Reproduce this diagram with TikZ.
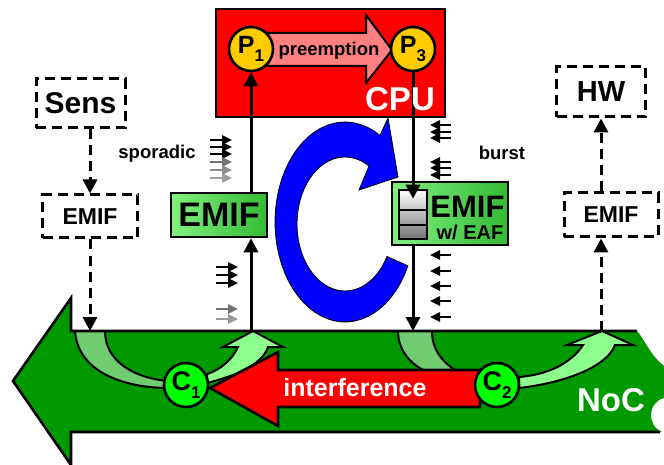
\documentclass[tikz,border=0pt]{standalone}
\usepackage{fontspec}
\setmainfont{Liberation Sans}
\usetikzlibrary{arrows.meta}
\definecolor{cpured}{HTML}{FF0000}
\definecolor{pyellow}{HTML}{FFCC00}
\definecolor{preempt}{HTML}{FF8080}
\definecolor{nocgreen}{HTML}{009900}
\definecolor{cgreen}{HTML}{00FF00}
\definecolor{flowdark}{HTML}{70CC70}
\definecolor{flowlight}{HTML}{8CFF8C}
\definecolor{emiflight}{HTML}{80F080}
\definecolor{emifdark}{HTML}{33BB33}
\definecolor{spinblue}{HTML}{0000FF}
\newcommand{\fsz}[1]{\fontsize{#1}{#1}\selectfont\bfseries}
\newcommand{\idx}[1]{\raisebox{-0.3em}{\fontsize{17}{17}\selectfont #1}}

\begin{document}
\begin{tikzpicture}[
  x=1pt, y=-1pt,
  >={Triangle[length=14pt, width=14pt]},
  link/.style={->, line width=3pt},
  dlink/.style={->, line width=3pt, dash pattern=on 10pt off 6pt},
  dbox/.style={
    draw, line width=3pt, dash pattern=on 10pt off 6pt,
    inner sep=0pt, font=\fsz{23}
  },
  gbox/.style={
    draw, line width=2.6pt, inner sep=0pt,
    left color=emiflight, right color=emifdark
  },
  proc/.style={
    circle, draw, line width=2.6pt, fill=pyellow,
    minimum size=44pt, inner sep=0pt, font=\fsz{25}
  },
  chan/.style={
    circle, draw, line width=2.6pt, fill=cgreen,
    minimum size=44pt, inner sep=0pt, font=\fsz{27}
  },
  flowtick/.style={-{Triangle[length=10pt, width=9pt]}, line width=2.4pt},
  band/.style={line width=2pt},
  lbl/.style={font=\fsz{18.5}},
]
  \useasboundingbox (0,0) rectangle (664,465);

  \node[draw, line width=2.6pt, fill=cpured,
    minimum width=229pt, minimum height=108pt] (cpu) at (330.5,63) {};
  \draw[fill=preempt, line width=2pt] (262,33) -- (366,33) -- (366,15)
    -- (392,50) -- (366,83) -- (366,66) -- (262,66) -- cycle;

  \draw[fill=spinblue, line width=0.8pt]
    plot[domain=26:300, samples=50] ({345+70*cos(\x)}, {222+100*sin(\x)})
    -- (388,118) -- (398,177) -- (359,190)
    -- plot[domain=300:29, samples=50] ({345+48*cos(\x)}, {224+67*sin(\x)})
    -- cycle;

  \fill[nocgreen] (13,381) -- (71,298) -- (71,331) -- (637,331)
    .. controls (645,340) and (650,355) .. (664,366) -- (664,398)
    .. controls (648,402) and (646,425) .. (662,432)
    -- (71,432) -- (71,465) -- cycle;
  \draw[band, fill=flowdark] (75,331) .. controls (78,375) and (130,388) .. (168,388)
    -- (168,381) .. controls (135,378) and (105,362) .. (105,331);
  \draw[band, fill=flowdark] (398,331) .. controls (398,350) and (410,363) .. (423,370)
    -- (455,370) .. controls (440,360) and (432,348) .. (432,331);
  \draw[line width=2.6pt] (637,331) -- (71,331) -- (71,298) -- (13,381)
    -- (71,465) -- (71,432) -- (660,432);
  \draw[band, fill=flowlight] (207,383) .. controls (235,376) and (262,365) .. (268,347)
    -- (283,347) -- (253,331) -- (223,347) -- (238,347)
    .. controls (232,360) and (220,370) .. (207,374) -- cycle;
  \draw[band, fill=flowlight] (519,388) .. controls (570,382) and (608,365) .. (615,345)
    -- (633,345) -- (602,331) -- (567,345) -- (583,345)
    .. controls (570,365) and (545,375) .. (519,377) -- cycle;
  \draw[fill=cpured, line width=2.6pt] (210,388) -- (278,352) -- (278,370)
    -- (480,370) -- (480,407) -- (278,407) -- (278,426) -- cycle;

  \coordinate (nocA) at (90,331);
  \coordinate (nocB) at (251,331);
  \coordinate (nocC) at (413,331);
  \coordinate (nocD) at (601,331);

  \node[dbox, minimum width=89pt, minimum height=49pt, font=\fsz{30}] (sens) at (80.5,103.5) {Sens};
  \node[dbox, minimum width=95pt, minimum height=43pt] (emifa) at (90,216.5) {EMIF};
  \node[dbox, minimum width=89pt, minimum height=50pt, font=\fsz{29}] (hw) at (601,92) {HW};
  \node[dbox, minimum width=94pt, minimum height=44pt] (emifd) at (611,215) {EMIF};

  \node[gbox, minimum width=96pt, minimum height=44pt, font=\fsz{34}] (emifb) at (219,215) {EMIF};
  \node[gbox, minimum width=116pt, minimum height=63pt] (emifc) at (450,213.5) {};
  \node[font=\fsz{31}] (eafname) at (467.5,207) {EMIF};
  \node[font=\fsz{20}] (eafsub) at (470,232) {w/ EAF};
  \node[draw, line width=2.6pt, top color=white, bottom color=gray!90!black,
    minimum width=28pt, minimum height=49pt] (fifo) at (413,214.5) {};
  \draw[line width=2pt] (399,210) -- (427,210);
  \draw[line width=2pt] (399,225) -- (427,225);

  \draw[dlink] (sens.south -| emifa) -- (emifa.north);
  \draw[dlink] (emifa.south) -- (nocA);
  \draw[dlink] (nocD) -- (nocD |- emifd.south);
  \draw[dlink] (nocD |- emifd.north) -- (hw.south);

  \node[proc] (p1) at (251,49) {P\idx{1}};
  \node[proc] (p3) at (413,49) {P\idx{3}};
  \node[lbl] (pre) at (329,51) {preemption};

  \draw[link] (nocB) -- (nocB |- emifb.south);
  \draw[link] (nocB |- emifb.north) -- (p1);
  \draw[link] (p3) -- ([yshift=-10pt]fifo.north);
  \draw[link] (nocC |- emifc.south) -- (nocC);

  \node[font=\fsz{33}, text=white] (cpulbl) at (400,99) {CPU};

  \foreach \y/\c in {140/black, 147/black, 154/black, 162/black!55, 170/black!45, 178/black!38}
    \draw[flowtick, \c] (210,\y) -- (232,\y);
  \foreach \y/\c in {267/black, 275/black, 283/black, 309/black!55, 319/black!40}
    \draw[flowtick, \c] (216,\y) -- (238,\y);
  \foreach \y in {125,132,138,162,168,175,255,271,286,301,317}
    \draw[flowtick] (451,\y) -- (430,\y);
  \node[lbl] (spor) at (157,154) {sporadic};
  \node[lbl] (burst) at (502,153) {burst};

  \node[chan] (c1) at (186,385) {C\idx{1}};
  \node[chan] (c2) at (497,385) {C\idx{2}};
  \node[font=\fsz{25}, text=white] (intf) at (355,388) {interference};
  \node[font=\fsz{33}, text=white] (noc) at (611,400) {NoC};
\end{tikzpicture}
\end{document}
